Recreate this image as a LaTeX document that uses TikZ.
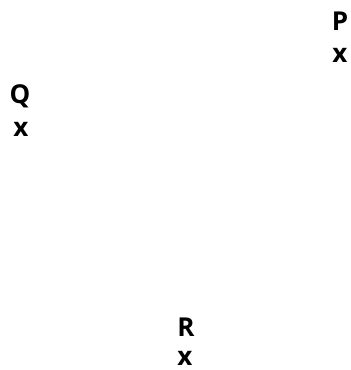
\documentclass[tikz,border=0pt]{standalone}
\usepackage{fontspec}
\setmainfont{Open Sans}
\begin{document}
\begin{tikzpicture}[x=1pt,y=-1pt,lbl/.style={font=\fontsize{26}{30}\selectfont\bfseries,inner sep=0pt,anchor=base}]
\useasboundingbox (0,0) rectangle (351,370);
\node[lbl] (P) at (340,30) {P};
\node[lbl] (Px) at (340,62) {x};
\node[lbl] (Q) at (20,103) {Q};
\node[lbl] (Qx) at (21,136) {x};
\node[lbl] (R) at (186,336) {R};
\node[lbl] (Rx) at (185,365) {x};
\end{tikzpicture}
\end{document}
